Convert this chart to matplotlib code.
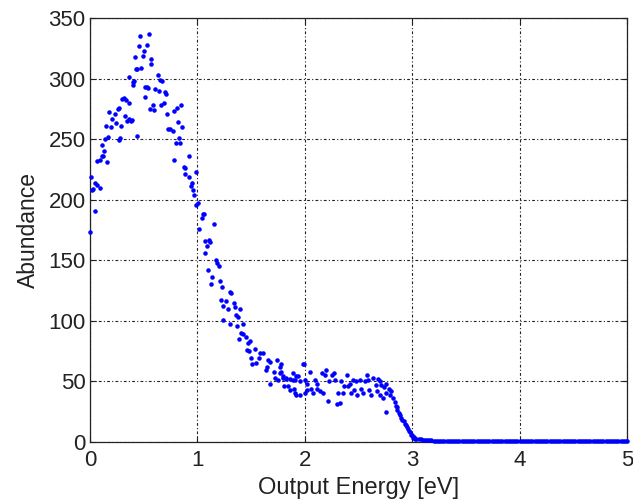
import matplotlib.pyplot as plt
import numpy as np

# puntos (energia en eV, abundancia)
x_pico = [0.00, 0.01, 0.02, 0.03, 0.05, 0.05, 0.07, 0.09, 0.07, 0.09,
          0.11, 0.12, 0.13, 0.16, 0.11, 0.14, 0.17, 0.15, 0.18, 0.20,
          0.21, 0.23, 0.24, 0.26, 0.27, 0.27, 0.28, 0.29, 0.30, 0.32,
          0.33, 0.34, 0.35, 0.36, 0.36, 0.36, 0.38, 0.39, 0.40, 0.40,
          0.41, 0.42, 0.43, 0.44, 0.44, 0.46, 0.47, 0.48, 0.49, 0.50,
          0.51, 0.51, 0.53, 0.53, 0.54, 0.55, 0.56, 0.57, 0.57, 0.59,
          0.60, 0.61, 0.63, 0.64, 0.65, 0.66, 0.67, 0.69, 0.70, 0.71,
          0.72, 0.73, 0.75, 0.77, 0.78, 0.78, 0.80, 0.81, 0.82, 0.83,
          0.84, 0.85, 0.86, 0.88, 0.89, 0.89, 0.92, 0.92, 0.94, 0.95,
          0.96, 0.97, 0.99, 0.99]
y_pico = [173, 219, 208, 209, 191, 214, 212, 210, 232, 233,
          236, 236, 240, 231, 245, 250, 252, 261, 272, 260,
          267, 271, 263, 275, 276, 249, 251, 261, 283, 284,
          269, 282, 265, 280, 267, 301, 265, 266, 295, 297,
          298, 318, 308, 308, 253, 327, 335, 309, 319, 323,
          293, 285, 328, 293, 292, 337, 275, 316, 312, 278,
          274, 291, 303, 290, 299, 278, 298, 280, 289, 287,
          271, 258, 258, 257, 273, 233, 247, 276, 264, 251,
          247, 278, 260, 227, 226, 221, 219, 236, 211, 214,
          208, 204, 223, 196]

x_caida = [1.01, 1.02, 1.04, 1.05, 1.06, 1.07, 1.07, 1.09, 1.10, 1.11,
           1.12, 1.13, 1.14, 1.16, 1.17, 1.18, 1.20, 1.21, 1.22, 1.23,
           1.24, 1.24, 1.27, 1.29, 1.30, 1.30, 1.31, 1.34, 1.35, 1.36,
           1.37, 1.38, 1.39, 1.40, 1.41, 1.43, 1.43, 1.45, 1.46, 1.47,
           1.48, 1.49, 1.50, 1.51, 1.54, 1.55, 1.57, 1.58, 1.61, 1.64,
           1.65, 1.66, 1.68, 1.68, 1.71, 1.72, 1.74, 1.75, 1.77, 1.78,
           1.77, 1.78]
y_caida = [197, 176, 185, 188, 188, 166, 156, 162, 142, 167,
           165, 130, 136, 180, 150, 148, 145, 133, 117, 128,
           112, 101, 116, 110, 124, 97, 123, 115, 111, 105,
           96, 103, 85, 110, 90, 89, 97, 87, 76, 82,
           75, 83, 69, 64, 77, 65, 69, 73, 73, 59,
           62, 68, 66, 48, 58, 53, 68, 51, 62, 58,
           57, 64]

x_meseta = [1.80, 1.80, 1.81, 1.83, 1.83, 1.84, 1.86, 1.86, 1.89, 1.89,
            1.90, 1.91, 1.91, 1.92, 1.92, 1.94, 1.96, 1.96, 1.98, 1.99,
            2.00, 2.00, 2.02, 2.02, 2.05, 2.06, 2.08, 2.10, 2.11, 2.11,
            2.14, 2.16, 2.17, 2.19, 2.20, 2.22, 2.23, 2.25, 2.27, 2.28,
            2.30, 2.31, 2.33, 2.34, 2.36, 2.37, 2.39, 2.40, 2.42, 2.43,
            2.45, 2.46, 2.48, 2.49, 2.51, 2.52, 2.54, 2.56, 2.58, 2.59,
            2.60, 2.62, 2.64, 2.66, 2.67, 2.68, 2.70, 2.70, 2.71, 2.73,
            2.74, 2.76, 2.76, 2.76, 2.78, 2.79, 2.80, 2.82, 2.84, 2.85,
            2.86, 2.86, 2.88, 2.89, 2.90, 2.91, 2.92, 2.93, 2.94, 2.95,
            2.96, 2.97, 2.98, 2.99, 3.00, 3.01, 3.02, 3.03]
y_meseta = [54, 53, 46, 53, 52, 46, 43, 52, 57, 51,
            44, 51, 40, 54, 39, 54, 50, 39, 64, 64,
            51, 40, 48, 43, 58, 44, 40, 51, 48, 44,
            42, 57, 40, 55, 59, 34, 50, 55, 57, 51,
            31, 40, 32, 50, 40, 46, 55, 46, 48, 40,
            51, 43, 50, 39, 51, 44, 40, 50, 55, 51,
            43, 39, 53, 47, 42, 52, 50, 39, 47, 36,
            45, 48, 40, 25, 44, 39, 42, 36, 33, 30,
            29, 26, 24, 22, 20, 18, 17, 15, 14, 12,
            11, 9, 8.5, 6, 6, 3, 4, 2.5]

# cola casi nula de 3.04 a 5 eV
y_cola = [2.5, 2.2, 2.0, 1.8, 1.6, 1.5, 1.3, 1.2, 1.0, 1.0,
          0.9, 0.8, 0.8, 0.7, 0.7, 0.6, 0.6, 0.6, 0.5, 0.5,
          0.5, 0.5, 0.5, 0.5, 0.5, 0.5, 0.5, 0.5, 0.5, 0.5,
          0.5, 0.5, 0.5, 0.5, 0.5, 0.5, 0.5, 0.5, 0.5, 0.5,
          0.5, 0.5, 0.5, 0.5, 0.5, 0.5, 0.5, 0.5, 0.5, 0.5,
          0.5, 0.5, 0.5, 0.5, 0.5, 0.5, 0.5, 0.5, 0.5, 0.5,
          0.5, 0.5, 0.5, 0.5, 0.5, 0.5, 0.5, 0.5, 0.5, 0.5,
          0.5, 0.5, 0.5, 0.5, 0.5, 0.5, 0.5, 0.5, 0.5, 0.5,
          0.5, 0.5, 0.5, 0.5, 0.5, 0.5, 0.5, 0.5, 0.5, 0.5,
          0.5, 0.5, 0.5, 0.5, 0.5, 0.5, 0.5, 0.5, 0.5]
x_cola = np.linspace(3.04, 5.0, len(y_cola))

x_ticks = [0, 1, 2, 3, 4, 5]
y_ticks = [0, 50, 100, 150, 200, 250, 300, 350]

plt.rcParams['font.family'] = ['Liberation Sans', 'DejaVu Sans']

fig = plt.figure(figsize=(6.33, 5.01), dpi=100)
ax = fig.add_axes([0.142, 0.118, 0.8485, 0.846])

x = x_pico + x_caida + x_meseta + list(x_cola)
y = y_pico + y_caida + y_meseta + y_cola
ax.plot(x, y, '.', color=(0, 0, 1), markersize=4.5, clip_on=False, zorder=3)

ax.set_xlim(0, 5)
ax.set_ylim(0, 350)
ax.set_xticks(x_ticks)
ax.set_yticks(y_ticks)
ax.tick_params(direction='in', length=4, labelsize=16, top=True, right=True,
               colors='#222222', pad=3)
ax.tick_params(axis='x', pad=6)
ax.grid(True, color='#222222', linestyle=(0, (2.5, 2, 1, 2)), linewidth=0.8)
for s in ax.spines.values():
    s.set_linewidth(0.9)
    s.set_color('#222222')

ax.set_xlabel('Output Energy [eV]', fontsize=17, labelpad=4, color='#222222')
ax.set_ylabel('Abundance', fontsize=16.5, labelpad=6, color='#222222')

fig.savefig('out.png', dpi=100)
